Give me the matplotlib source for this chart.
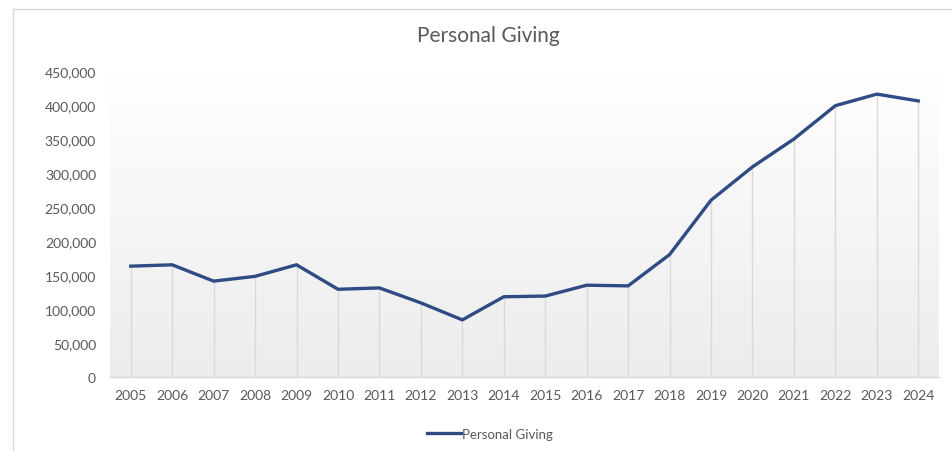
import matplotlib
matplotlib.use("Agg")
import matplotlib.pyplot as plt
import numpy as np
from matplotlib.lines import Line2D
from matplotlib.ticker import FuncFormatter

years = ["2005", "2006", "2007", "2008", "2009", "2010", "2011", "2012", "2013", "2014",
         "2015", "2016", "2017", "2018", "2019", "2020", "2021", "2022", "2023", "2024"]
personal_giving = [163000, 165000, 141000, 148000, 165000, 129000, 131000, 109000, 84000, 118000,
                   119000, 135000, 134000, 180000, 260000, 309000, 350000, 399000, 416000, 406000]
y_ticks = [0, 50000, 100000, 150000, 200000, 250000, 300000, 350000, 400000, 450000]

plt.rcParams['font.family'] = ['Lato', 'DejaVu Sans']

W, H = 953, 452
fig = plt.figure(figsize=(W / 100, H / 100), dpi=100)
fig.patch.set_facecolor('white')

left, right, bottom_px, top_px = 110, 939, 378, 72
ax = fig.add_axes([left / W, (H - bottom_px) / H, (right - left) / W, (bottom_px - top_px) / H])

x = np.arange(len(years))
ax.set_xlim(-0.5, len(years) - 0.5)
ax.set_ylim(0, 450000)

# gradient background
grad = np.linspace(0, 1, 256).reshape(-1, 1)
top_c = np.array([1.0, 1.0, 1.0])
bot_c = np.array([0xEC, 0xEC, 0xEC]) / 255
img = top_c * (1 - grad[..., None]) + bot_c * grad[..., None]
img = img.reshape(256, 1, 3)
ax.imshow(img, extent=[0, 1, 0, 1], transform=ax.transAxes, aspect='auto', zorder=0)

ax.vlines(x, 0, personal_giving, color='#D9D9D9', lw=1.0, zorder=1)
ax.plot(x, personal_giving, color='#2E4B84', lw=2.4, solid_joinstyle='round', zorder=3,
        label='Personal Giving')

for s in ['top', 'right', 'left']:
    ax.spines[s].set_visible(False)
ax.spines['bottom'].set_color('#D9D9D9')
ax.spines['bottom'].set_linewidth(1.0)

ax.set_xticks(x)
ax.set_xticklabels(years)
ax.set_yticks(y_ticks)
ax.yaxis.set_major_formatter(FuncFormatter(lambda v, p: f"{int(v):,}"))
ax.tick_params(axis='both', length=0, labelsize=10, colors='#595959')
ax.tick_params(axis='x', pad=9)
ax.tick_params(axis='y', pad=10)

fig.text(488 / W, 1 - 36 / H, "Personal Giving", ha='center', va='center',
         fontsize=15, color='#595959')

leg = fig.legend(handles=[Line2D([0], [0], color='#2E4B84', lw=2.4)], labels=['Personal Giving'],
                 loc='center', bbox_to_anchor=(490 / W, 1 - 435 / H), frameon=False,
                 fontsize=9.5, handlelength=2.6, handletextpad=0.1, labelcolor='#595959')

# chart border
fig.add_artist(Line2D([13.5 / W, 13.5 / W], [0, 1 - 9.5 / H], transform=fig.transFigure,
                      color='#D9D9D9', lw=1.0))
fig.add_artist(Line2D([13.5 / W, 1], [1 - 9.5 / H, 1 - 9.5 / H], transform=fig.transFigure,
                      color='#D9D9D9', lw=1.0))

fig.savefig('out.png', dpi=100, facecolor='white')
